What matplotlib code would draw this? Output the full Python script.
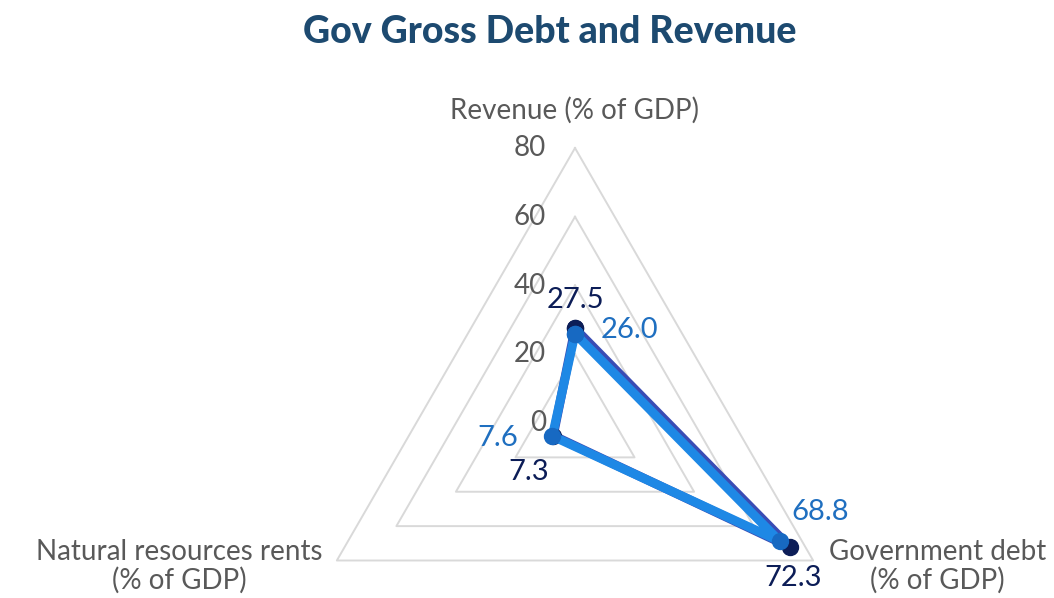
import matplotlib
matplotlib.use("Agg")
import matplotlib.pyplot as plt
import numpy as np

plt.rcParams['font.family'] = ['Lato', 'DejaVu Sans']

# data
categories = ['Revenue (% of GDP)', 'Government debt\n(% of GDP)', 'Natural resources rents\n(% of GDP)']
series_a = [27.5, 72.3, 7.3]   # navy
series_b = [26.0, 68.8, 7.6]   # blue
levels = [0, 20, 40, 60, 80]

navy = '#0c1d57'
navy_line = '#3a4cb4'
blue = '#1e88e5'
blue_mk = '#1769c2'
blue_txt = '#1f6fc0'
grey = '#595959'
grid_c = '#d9d9d9'

angles = np.linspace(0, 2 * np.pi, len(categories), endpoint=False)
closed = np.append(angles, angles[0])

fig = plt.figure(figsize=(10.54, 5.98), dpi=100)
ax = fig.add_axes([300 / 1054, -100 / 598, 550 / 1054, 550 / 598], projection='polar')
ax.set_theta_offset(np.pi / 2)
ax.set_theta_direction(-1)
ax.set_ylim(0, 80)
ax.grid(False)
ax.set_xticks([])
ax.set_yticks([])
ax.spines['polar'].set_visible(False)
ax.patch.set_alpha(0)

# triangular grid
for lv in levels[1:]:
    ax.plot(closed, [lv] * len(closed), color=grid_c, lw=1.4, clip_on=False, zorder=1)

# radial tick labels
for lv in levels:
    ax.annotate(str(lv), (0, lv), xytext=(-29, 0), textcoords='offset pixels',
                ha='right', va='center', fontsize=20, color=grey)

# category labels
cat_offsets = [(0, 38), (124, -6), (-158, -6)]
for a, lab, off in zip(angles, categories, cat_offsets):
    ax.annotate(lab, (a, 80), xytext=off, textcoords='offset pixels',
                ha='center', va='center', fontsize=20, color=grey,
                multialignment='center', linespacing=1.1)

# series
ax.plot(closed, series_a + series_a[:1], color=navy_line, lw=6.5,
        marker='o', ms=11.5, mfc=navy, mec=navy, zorder=3, clip_on=False)
ax.plot(closed, series_b + series_b[:1], color=blue, lw=6.5,
        marker='o', ms=11.5, mfc=blue_mk, mec=blue_mk, zorder=4, clip_on=False)

# data labels
off_a = [(0, 28), (3, -31), (-25, -36)]
off_b = [(54, 4), (40, 29), (-55, -2)]
for a, v, off in zip(angles, series_a, off_a):
    ax.annotate(f'{v:.1f}', (a, v), xytext=off, textcoords='offset pixels',
                ha='center', va='center', fontsize=21, color=navy, zorder=5)
for a, v, off in zip(angles, series_b, off_b):
    ax.annotate(f'{v:.1f}', (a, v), xytext=off, textcoords='offset pixels',
                ha='center', va='center', fontsize=21, color=blue_txt, zorder=5)

fig.text(550 / 1054, 1 - 32 / 598, 'Gov Gross Debt and Revenue', ha='center', va='center',
         fontsize=27, fontweight='black', color='#1d4a70')

fig.savefig('out.png', dpi=100)
